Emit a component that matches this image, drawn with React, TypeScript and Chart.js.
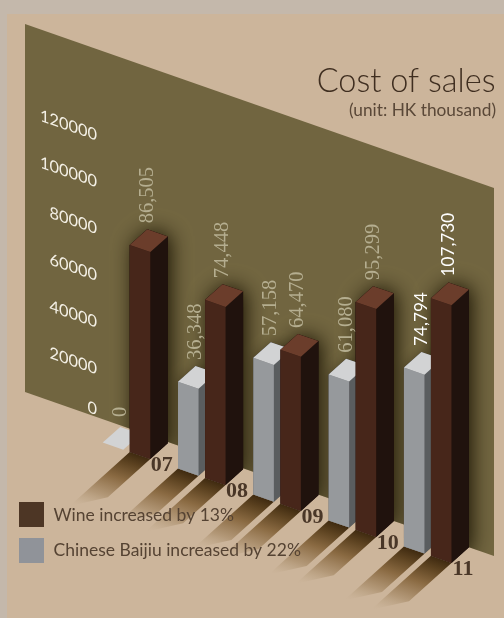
import React, { useEffect, useRef } from "react";
import { Chart, registerables } from "chart.js";

Chart.register(...registerables);

// Annual cost of sales, HK$ thousand
const years = ["07", "08", "09", "10", "11"];
const baijiuCost = [0, 36348, 57158, 61080, 74794];
const wineCost = [86505, 74448, 64470, 95299, 107730];
const yTicks = { min: 0, max: 120000, step: 20000 };

const wineLegend = "Wine increased by 13%";
const baijiuLegend = "Chinese Baijiu increased by 22%";
const titleText = "Cost of sales";
const unitText = "(unit: HK thousand)";

// Oblique projection of the flat chart plane
const SHEAR = 0.345;
const SHEAR_ORIGIN_X = 130;
const DEPTH = { x: 17.5, y: -15.7 };
const FLOOR_CAST = { x: -60, y: 54 };
const WALL_SCALE = 0.978;

const palette = {
  band: "#c4b8ab",
  floor: "#ccb59b",
  wall: "#716540",
  wine: { front: "#47261a", side: "#20120d", top: "#6b3d2b", legend: "#4d3625" },
  baijiu: { front: "#96999c", side: "#5a5d5f", top: "#d2d3d4", legend: "#909399" },
  ink: "#3f2e20",
  tick: "#f3efe4",
  muted: "#b5ae90",
  bright: "#ffffff",
};

type Pt = [number, number];

const project = (x: number, y: number): Pt => [x, y + SHEAR * (x - SHEAR_ORIGIN_X)];

function poly(ctx: CanvasRenderingContext2D, pts: Pt[], fill: string | CanvasGradient) {
  ctx.beginPath();
  pts.forEach(([x, y], i) => (i ? ctx.lineTo(x, y) : ctx.moveTo(x, y)));
  ctx.closePath();
  ctx.fillStyle = fill;
  ctx.fill();
}

function wallPath(ctx: CanvasRenderingContext2D) {
  ctx.beginPath();
  ctx.moveTo(25, 24);
  ctx.lineTo(494, 188);
  ctx.lineTo(494, 556);
  ctx.lineTo(25, 392);
  ctx.closePath();
}

// Corner points of one bar on screen, taken from its Chart.js element
function barCorners(el: any) {
  const left = el.x - el.width / 2;
  const right = el.x + el.width / 2;
  const tl = project(left, el.y);
  const tr = project(right, el.y);
  const bl = project(left, el.base);
  const br = project(right, el.base);
  const back = (p: Pt): Pt => [p[0] + DEPTH.x, p[1] + DEPTH.y];
  return { tl, tr, bl, br, apex: back(tl), tr2: back(tr), br2: back(br) };
}

const faces = [palette.baijiu, palette.wine];

const isometricPlugin = {
  id: "isometric",
  beforeDraw(chart: any) {
    const { ctx, width, height } = chart;
    ctx.save();
    ctx.fillStyle = palette.band;
    ctx.fillRect(0, 0, width, height);
    ctx.fillStyle = palette.floor;
    ctx.fillRect(7, 14, width - 7, height - 14);
    wallPath(ctx);
    ctx.fillStyle = palette.wall;
    ctx.fill();
    ctx.restore();
  },
  beforeDatasetsDraw(chart: any) {
    const { ctx } = chart;
    const metas = chart.data.datasets.map((_: unknown, i: number) => chart.getDatasetMeta(i));
    const count = chart.data.labels.length;

    // Shadows cast down the floor
    for (let i = 0; i < count; i++) {
      metas.forEach((meta: any, d: number) => {
        const el = meta.data[i];
        if (chart.data.datasets[d].data[i] === 0) return;
        const c = barCorners(el);
        const len = Math.hypot(1, SHEAR);
        const nx = -SHEAR / len;
        const ny = 1 / len;
        const reach = FLOOR_CAST.x * nx + FLOOR_CAST.y * ny;
        const mx = (c.bl[0] + c.br[0]) / 2;
        const my = (c.bl[1] + c.br[1]) / 2;
        const g = ctx.createLinearGradient(mx, my, mx + nx * reach, my + ny * reach);
        g.addColorStop(0, "#3f2a10");
        g.addColorStop(0.15, "#5c4220");
        g.addColorStop(0.4, "#8a6a42");
        g.addColorStop(0.7, "rgba(176,149,116,0.9)");
        g.addColorStop(0.85, "rgba(190,166,136,0.55)");
        g.addColorStop(1, "rgba(204,181,155,0)");
        const shift = (p: Pt): Pt => [p[0] + FLOOR_CAST.x, p[1] + FLOOR_CAST.y];
        poly(ctx, [c.bl, c.br, c.br2, shift(c.br2), shift(c.bl)], g);
      });
    }

    // Soft shadows thrown on the back wall
    ctx.save();
    wallPath(ctx);
    ctx.clip();
    metas.forEach((meta: any, d: number) => {
      meta.data.forEach((el: any, i: number) => {
        if (chart.data.datasets[d].data[i] === 0) return;
        const c = barCorners(el);
        ctx.save();
        ctx.shadowColor = d === 1 ? "rgba(22,16,0,0.95)" : "rgba(22,16,0,0.4)";
        ctx.shadowBlur = d === 1 ? 20 : 12;
        ctx.shadowOffsetX = d === 1 ? 3 : 1;
        poly(ctx, [c.tl, c.apex, c.tr2, c.br2, c.br, c.bl], "#20120d");
        ctx.restore();
      });
    });
    ctx.restore();

    // Bars, left to right, the Baijiu bar standing behind the wine bar of its year
    for (let i = 0; i < count; i++) {
      metas.forEach((meta: any, d: number) => {
        const c = barCorners(meta.data[i]);
        const f = faces[d];
        if (chart.data.datasets[d].data[i] !== 0) {
          poly(ctx, [c.tl, c.apex, c.tr2, c.br2, c.br, c.bl], f.side);
        }
        poly(ctx, [c.tr, c.tr2, c.br2, c.br], f.side);
        poly(ctx, [c.tl, c.tr, c.br, c.bl], f.front);
        poly(ctx, [c.tl, c.apex, c.tr2, c.tr], f.top);
      });
    }
    return false;
  },
  afterDraw(chart: any) {
    const { ctx, scales } = chart;
    const y = scales.y;
    const base = y.getPixelForValue(0);

    ctx.save();
    ctx.textBaseline = "middle";

    // Value axis labels lie in the plane of the wall
    ctx.font = '16.4px Lato';
    ctx.fillStyle = palette.tick;
    ctx.textAlign = "right";
    y.ticks.forEach((t: any) => {
      const px = base - (base - y.getPixelForValue(t.value)) * WALL_SCALE;
      const lift = t.value === 0 ? 6 : 0;
      ctx.save();
      const [sx, sy] = project(97, px);
      ctx.transform(1, 0.35, 0, 1, sx, sy - 24.5 - lift);
      ctx.fillText(String(t.value), 0, 0);
      ctx.restore();
    });

    // Value labels above each bar
    chart.data.datasets.forEach((ds: any, d: number) => {
      chart.getDatasetMeta(d).data.forEach((el: any, i: number) => {
        const c = barCorners(el);
        const last = i === ds.data.length - 1;
        const gap = ds.data[i] === 0 ? 10 : 6;
        ctx.save();
        ctx.translate(c.apex[0], c.apex[1] - gap);
        ctx.rotate(-Math.PI / 2);
        ctx.textAlign = "left";
        ctx.font = last ? "17.2px Lato" : '20.5px "Liberation Serif"';
        ctx.fillStyle = last ? palette.bright : palette.muted;
        ctx.fillText(ds.data[i].toLocaleString("en-US"), 0, 0);
        ctx.restore();
      });
    });

    // Year labels next to the wine bars
    ctx.textBaseline = "alphabetic";
    ctx.textAlign = "center";
    ctx.fillStyle = "#4a3728";
    ctx.font = 'bold 22px "Liberation Serif"';
    chart.getDatasetMeta(1).data.forEach((el: any, i: number) => {
      const c = barCorners(el);
      ctx.fillText(chart.data.labels[i], c.br[0] + 11.5, c.br[1] + 12.5);
    });

    // Heading
    ctx.textAlign = "right";
    ctx.fillStyle = palette.ink;
    ctx.font = "300 32.5px Lato";
    ctx.fillText(titleText, 495.5, 92);
    ctx.font = "17.3px Lato";
    ctx.fillStyle = "#5a4838";
    ctx.fillText(unitText, 496, 115.5);

    // Legend
    ctx.fillStyle = palette.wine.legend;
    ctx.fillRect(19, 502, 25, 25);
    ctx.fillStyle = palette.baijiu.legend;
    ctx.fillRect(19, 538, 25, 25);
    ctx.textAlign = "left";
    ctx.textBaseline = "middle";
    ctx.font = "17.5px Lato";
    ctx.fillStyle = "#554333";
    ctx.fillText(wineLegend, 53.5, 515.5);
    ctx.fillText(baijiuLegend, 53.5, 550);
    ctx.restore();
  },
};

export default function App() {
  const canvasRef = useRef<HTMLCanvasElement>(null);

  useEffect(() => {
    const chart = new Chart(canvasRef.current!, {
      type: "bar",
      data: {
        labels: years,
        datasets: [
          { label: baijiuLegend, data: baijiuCost, backgroundColor: palette.baijiu.front },
          { label: wineLegend, data: wineCost, backgroundColor: palette.wine.front },
        ],
      },
      options: {
        responsive: false,
        animation: false,
        layout: { padding: { left: 88.85, right: 38.65, top: 165, bottom: 166 } },
        datasets: { bar: { categoryPercentage: 0.718, barPercentage: 0.76 } },
        plugins: { legend: { display: false }, tooltip: { enabled: false }, title: { display: false } },
        scales: {
          x: { display: false, grid: { display: false } },
          y: {
            display: false,
            min: yTicks.min,
            max: yTicks.max,
            ticks: { stepSize: yTicks.step },
            grid: { display: false },
          },
        },
      },
      plugins: [isometricPlugin],
    } as any);
    return () => chart.destroy();
  }, []);

  return (
    <div style={{ position: "fixed", left: 0, top: 0, width: 504, height: 618, overflow: "hidden" }}>
      <canvas ref={canvasRef} width={504} height={618} style={{ display: "block" }} />
    </div>
  );
}
